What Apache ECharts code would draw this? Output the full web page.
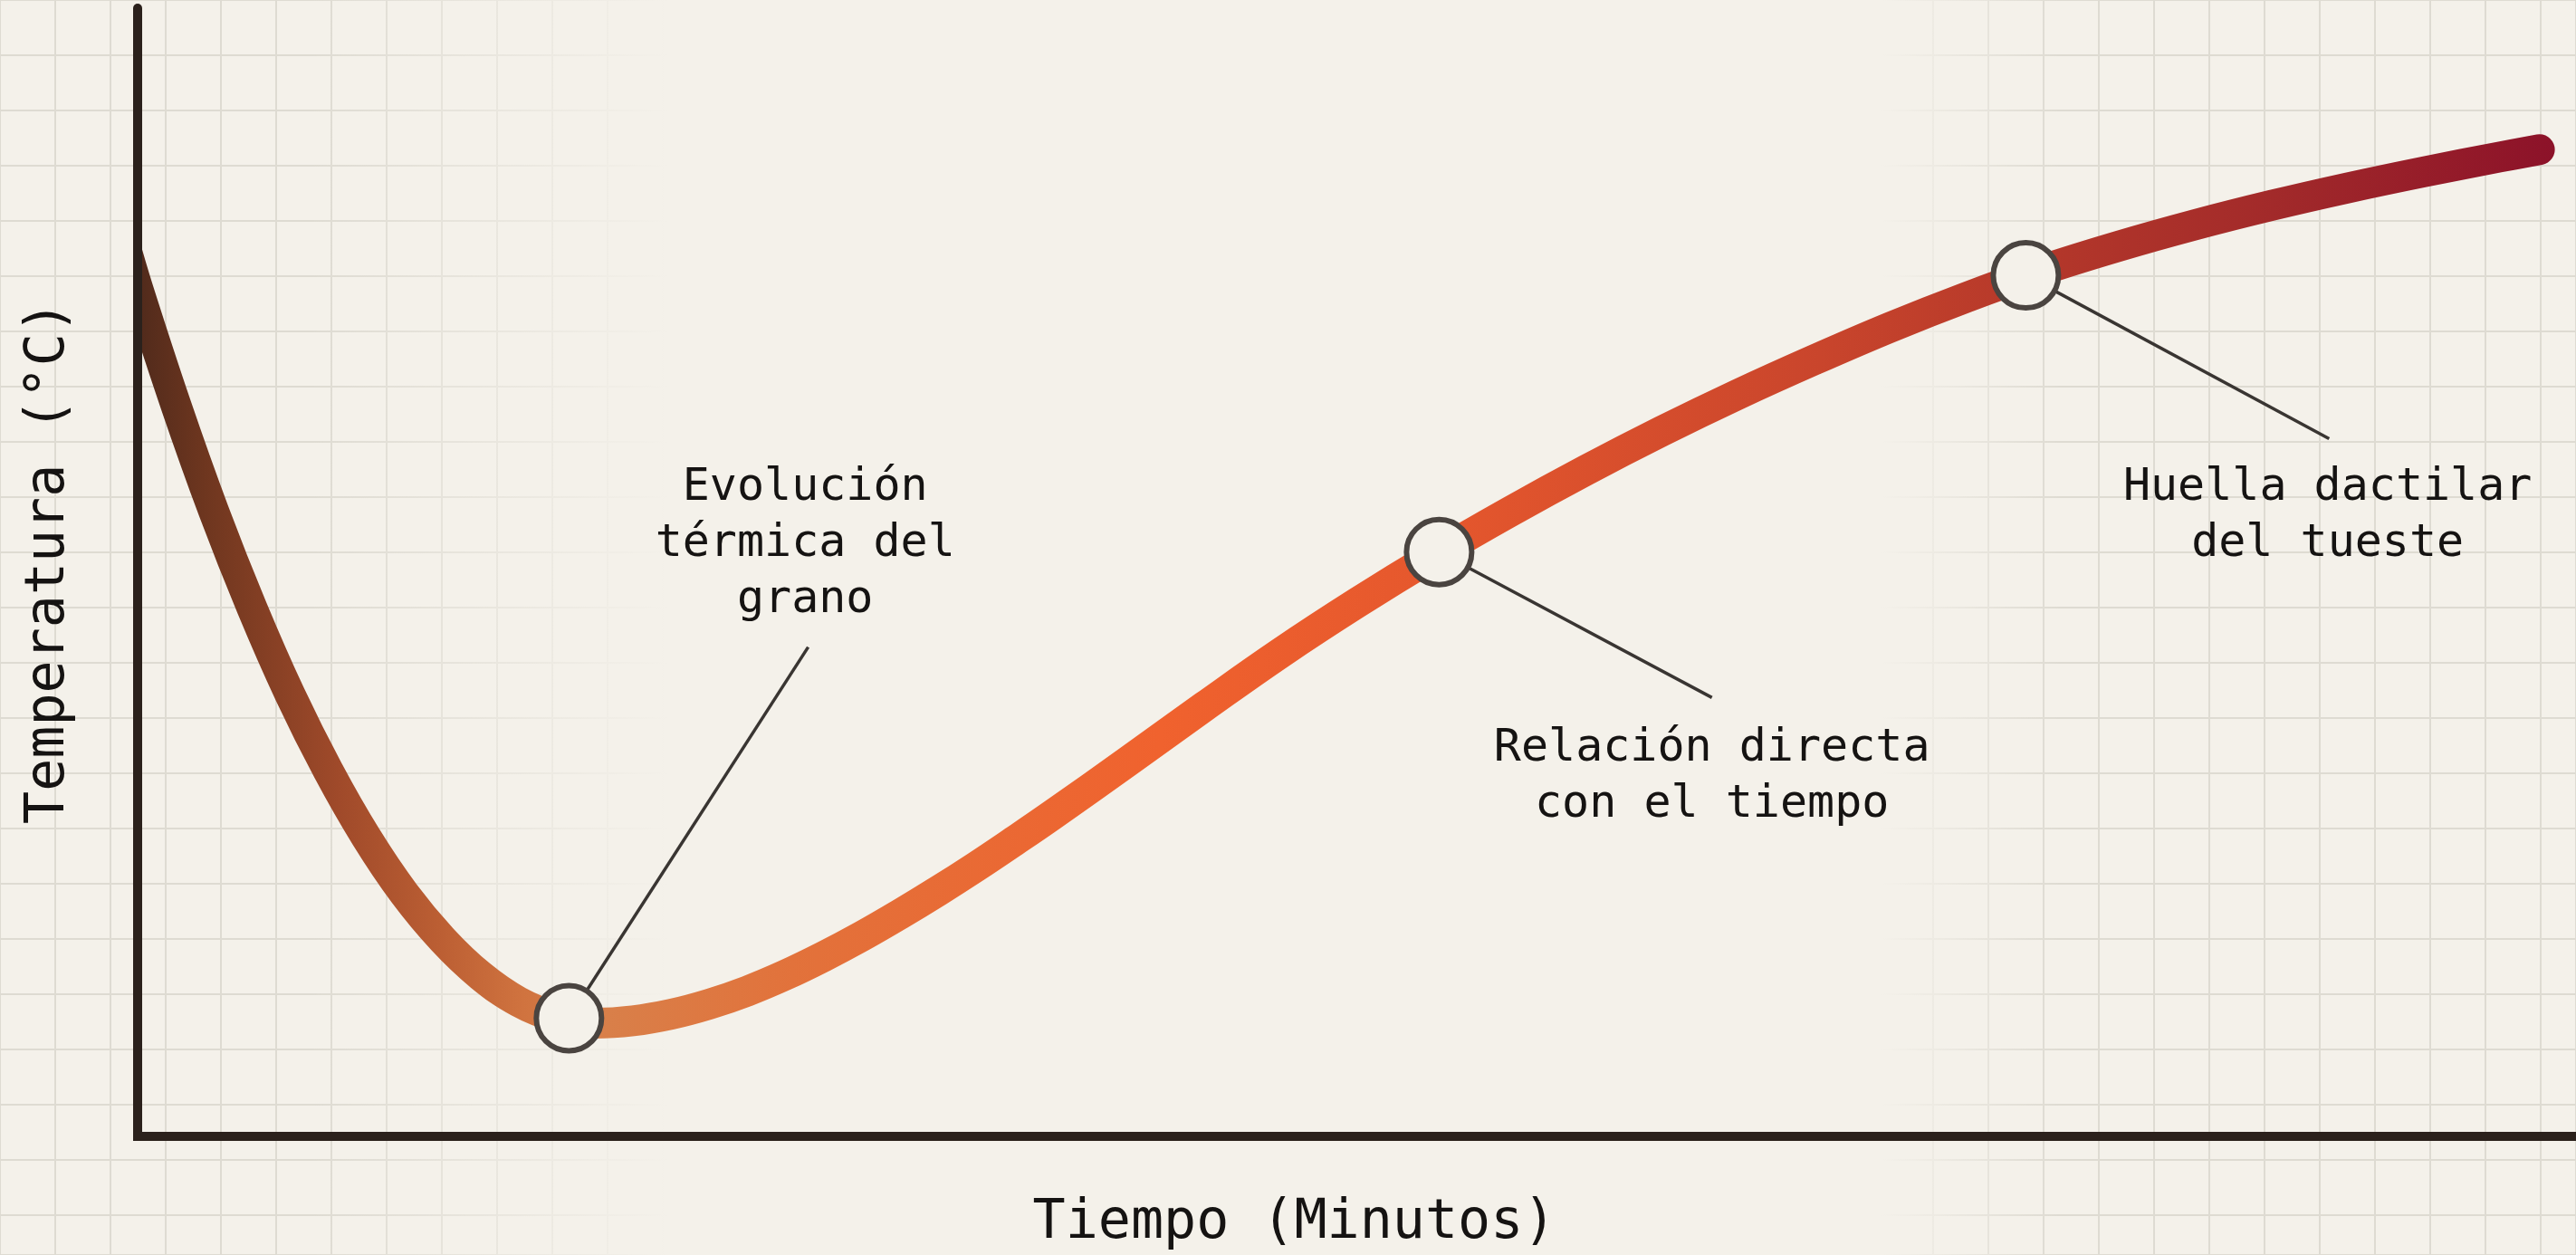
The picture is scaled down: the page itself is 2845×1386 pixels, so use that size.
<!DOCTYPE html>
<html><head><meta charset="utf-8">
<style>html,body{margin:0;padding:0;background:#f4f1ea;}#chart{width:2845px;height:1386px;}</style>
<script src="https://cdn.jsdelivr.net/npm/echarts@6/dist/echarts.min.js"></script>
</head><body><div id="chart"></div>
<script>
// Roast curve: time (minutes) vs bean temperature (°C)
// (the first point sits just behind the temperature axis, where the stroke emerges)
const timeMin = [-0.1, 0, 0.25, 0.5, 0.75, 1, 1.25, 1.5, 1.75, 2, 2.25, 2.5, 2.75, 3, 3.25, 3.5, 3.75, 4, 4.25, 4.5, 4.75, 5, 5.25, 5.5, 5.75, 6, 6.5, 7, 7.5, 8, 8.5, 9, 9.5, 10, 10.5, 11, 11.5, 12, 12.5, 13, 13.5, 14, 14.5, 15, 15.5, 15.76];
const tempC   = [211.6, 202.9, 183.3, 165.3, 149.1, 134.5, 121.7, 110.5, 101.0, 93.3, 87.2, 82.8, 80.2, 79.2, 79.6, 80.7, 82.4, 84.6, 87.3, 90.4, 93.8, 97.5, 101.4, 105.5, 109.8, 114.2, 123.3, 132.5, 141.5, 149.9, 157.8, 165.2, 172.2, 178.8, 185.0, 190.8, 196.3, 201.35, 205.95, 209.95, 213.55, 216.8, 219.75, 222.45, 224.95, 226.2];
// highlighted points on the curve
const markerTime = [2.83, 8.54, 12.39];
const markerTemp = [79.9, 158.4, 205.0];
// annotations
const noteTexts = ['Evolución\ntérmica del\ngrano', 'Relación directa\ncon el tiempo', 'Huella dactilar\ndel tueste'];
const noteTime = [4.38, 10.33, 14.37];
const noteTemp = [159.7, 120.5, 164.5];
const leaderEndTime = [4.40, 10.33, 14.38];
const leaderEndTemp = [142.4, 133.9, 177.5];
const xTitle = 'Tiempo (Minutos)';
const yTitle = 'Temperatura (°C)';

const BG = '#f4f1ea';
const INK = '#151312';
const MONO = '"DejaVu Sans Mono", "Liberation Mono", monospace';
const X_MIN = 0, X_MAX = 16, Y_MIN = 60, Y_MAX = 250;
const PLOT_LEFT = 152, PLOT_TOP = 9, PLOT_BOTTOM = 130, W = 2845;
const LINE_W = 34;
// the line clip area is widened by half the line width; shift that grid so the clip edge sits on the axis
const pad = LINE_W / 2;
const padMin = X_MIN + pad * (X_MAX - X_MIN) / (W - PLOT_LEFT);

const chart = echarts.init(document.getElementById('chart'), null, {renderer: 'canvas'});

const curve = timeMin.map((t, i) => [t, tempC[i]]);
const markers = markerTime.map((t, i) => [t, markerTemp[i]]);
const leaders = markerTime.map((t, k) => ({coords: [[t, markerTemp[k]], [leaderEndTime[k], leaderEndTemp[k]]]}));
const notes = noteTexts.map((s, k) => ({value: [noteTime[k], noteTemp[k]], name: s}));

const hiddenAxis = {axisLine: {show: false}, axisTick: {show: false}, axisLabel: {show: false}, splitLine: {show: false}};
const paperLine = {show: true, lineStyle: {color: '#dedbd2', width: 2}};

const option = {
  backgroundColor: BG,
  animation: false,
  graphic: [{
    type: 'rect', left: 0, top: 0, z: 1, silent: true,
    shape: {width: 2845, height: 1386},
    style: {fill: {type: 'linear', x: 0, y: 0, x2: 1, y2: 0, colorStops: [
      {offset: 0, color: 'rgba(244,241,234,0)'},
      {offset: 0.12, color: 'rgba(244,241,234,0)'},
      {offset: 0.26, color: 'rgba(244,241,234,1)'},
      {offset: 0.73, color: 'rgba(244,241,234,1)'},
      {offset: 0.80, color: 'rgba(244,241,234,0)'},
      {offset: 1, color: 'rgba(244,241,234,0)'}
    ]}}
  }],
  grid: [
    {left: PLOT_LEFT, right: 0, top: PLOT_TOP, bottom: PLOT_BOTTOM},
    {left: 0, right: 0, top: 0, bottom: 0},
    {left: PLOT_LEFT + pad, right: 0, top: PLOT_TOP, bottom: PLOT_BOTTOM}
  ],
  xAxis: [
    {type: 'value', gridIndex: 0, min: X_MIN, max: X_MAX, z: 3,
     axisLine: {show: true, lineStyle: {color: '#2b211c', width: 10, cap: 'square'}},
     axisTick: {show: false}, axisLabel: {show: false}, splitLine: {show: false},
     name: xTitle, nameLocation: 'middle', nameGap: 96,
     nameTextStyle: {fontFamily: MONO, fontSize: 60, color: INK, verticalAlign: 'middle', padding: [0, 138, 0, 0]}},
    Object.assign({type: 'value', gridIndex: 1, min: -36, max: 2809, interval: 61, z: 0}, hiddenAxis, {splitLine: paperLine}),
    Object.assign({type: 'value', gridIndex: 2, min: padMin, max: X_MAX}, hiddenAxis)
  ],
  yAxis: [
    {type: 'value', gridIndex: 0, min: Y_MIN, max: Y_MAX, z: 3,
     axisLine: {show: true, lineStyle: {color: '#2b211c', width: 10}},
     axisTick: {show: false}, axisLabel: {show: false}, splitLine: {show: false},
     name: yTitle, nameLocation: 'middle', nameRotate: 90, nameGap: 98,
     nameTextStyle: {fontFamily: MONO, fontSize: 60, color: INK, verticalAlign: 'middle', padding: [0, 0, 0, 22]}},
    Object.assign({type: 'value', gridIndex: 1, inverse: true, min: -52, max: 1334, interval: 61, z: 0}, hiddenAxis, {splitLine: paperLine}),
    Object.assign({type: 'value', gridIndex: 2, min: Y_MIN, max: Y_MAX}, hiddenAxis)
  ],
  series: [
    {type: 'line', xAxisIndex: 2, yAxisIndex: 2, data: curve, smooth: 0.4, symbol: 'none', z: 2, clip: true,
     lineStyle: {width: LINE_W, cap: 'round', join: 'round', color: {type: 'linear', x: 0, y: 0, x2: 1, y2: 0, colorStops: [
       {offset: 0, color: '#43251a'},
       {offset: 0.04, color: '#6e361f'},
       {offset: 0.095, color: '#a04a2a'},
       {offset: 0.135, color: '#bb5e33'},
       {offset: 0.17, color: '#d0733f'},
       {offset: 0.2, color: '#d8804a'},
       {offset: 0.28, color: '#e2723b'},
       {offset: 0.43, color: '#f0622e'},
       {offset: 0.545, color: '#e5572d'},
       {offset: 0.70, color: '#c9452c'},
       {offset: 0.786, color: '#b5382a'},
       {offset: 0.885, color: '#a22a2a'},
       {offset: 1, color: '#8c1229'}
     ]}}},
    {type: 'lines', coordinateSystem: 'cartesian2d', xAxisIndex: 0, yAxisIndex: 0, z: 3, silent: true,
     data: leaders, lineStyle: {color: '#393532', width: 3.5, opacity: 1}},
    {type: 'scatter', xAxisIndex: 0, yAxisIndex: 0, z: 4, silent: true, data: markers,
     symbol: 'circle', symbolSize: 72,
     itemStyle: {color: BG, borderColor: '#4a4440', borderWidth: 6, opacity: 1}},
    {type: 'scatter', xAxisIndex: 0, yAxisIndex: 0, z: 5, silent: true, data: notes,
     symbolSize: 1, itemStyle: {color: 'rgba(0,0,0,0)'},
     label: {show: true, position: 'inside', formatter: p => p.name, fontFamily: MONO, fontSize: 50,
       lineHeight: 62, color: INK, textBorderWidth: 0, opacity: 1, align: 'center', verticalAlign: 'middle'}}
  ]
};
chart.setOption(option);
</script>
</body></html>
